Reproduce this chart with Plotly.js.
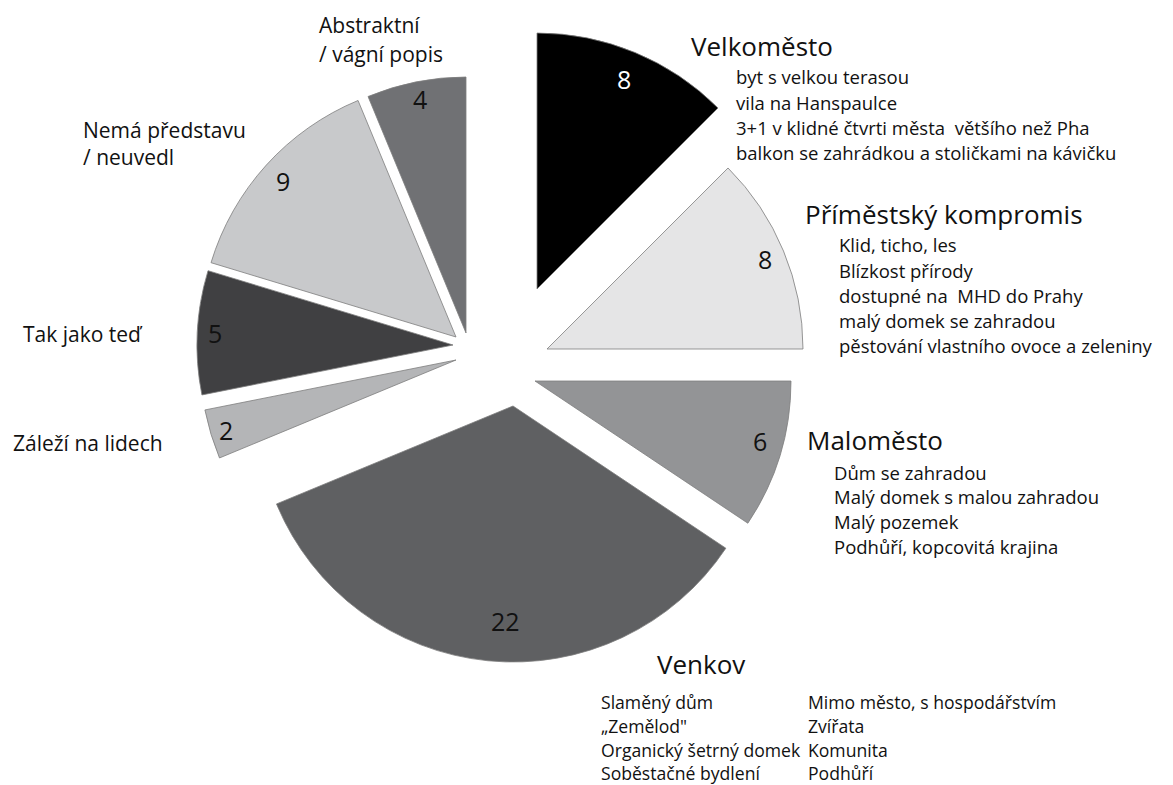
<!DOCTYPE html>
<html><head><meta charset="utf-8">
<script src="https://cdn.plot.ly/plotly-3.0.1.min.js"></script>
<style>html,body{margin:0;padding:0;background:#fff}#chart{width:1173px;height:785px}</style>
</head><body><div id="chart"></div>
<script>
// ---- data ----
const categories = ['Velkoměsto', 'Příměstský kompromis', 'Maloměsto', 'Venkov', 'Záleží na lidech', 'Tak jako teď', 'Nemá představu / neuvedl', 'Abstraktní / vágní popis'];
const counts = [8, 8, 6, 22, 2, 5, 9, 4];
const labelLinesVelkomesto = ['Velkoměsto'];
const labelLinesPrimestsky = ['Příměstský kompromis'];
const labelLinesMalomesto = ['Maloměsto'];
const labelLinesVenkov = ['Venkov'];
const labelLinesZalezi = ['Záleží na lidech'];
const labelLinesTak = ['Tak jako teď'];
const labelLinesNema = ['Nemá představu', '/ neuvedl'];
const labelLinesAbstraktni = ['Abstraktní', '/ vágní popis'];
const descVelkomesto = ['byt s velkou terasou', 'vila na Hanspaulce', '3+1 v klidné čtvrti města  většího než Pha', 'balkon se zahrádkou a stoličkami na kávičku'];
const descPrimestsky = ['Klid, ticho, les', 'Blízkost přírody', 'dostupné na  MHD do Prahy', 'malý domek se zahradou', 'pěstování vlastního ovoce a zeleniny'];
const descMalomesto = ['Dům se zahradou', 'Malý domek s malou zahradou', 'Malý pozemek', 'Podhůří, kopcovitá krajina'];
const descVenkovLeft = ['Slaměný dům', '„Zemělod"', 'Organický šetrný domek', 'Soběstačné bydlení'];
const descVenkovRight = ['Mimo město, s hospodářstvím', 'Zvířata', 'Komunita', 'Podhůří'];

// ---- styles / layout ----
const W = 1173, H = 785, R = 256;
const sliceColors = ['#000000', '#e5e5e6', '#939496', '#5f6062', '#b4b5b7', '#404042', '#c8c9cb', '#707174'];
const numberColors = ['#ffffff', '#111111', '#111111', '#111111', '#111111', '#111111', '#111111', '#111111'];
const apexPx = [[537, 289], [547, 349], [535, 381], [513, 406], [456, 360], [453, 345], [456, 337], [466, 333]];
const numberRadius = [0.89, 0.92, 0.91, 0.84, 0.94, 0.93, 0.91, 0.93];
const numberAngleShift = [0, 0, -2, -3.5, 0, 0, 0, 0];
const FONT = 'Open Sans, Noto Sans, sans-serif';
const TXT = '#111111';

const total = counts.reduce((a, b) => a + b, 0);
const px2x = p => p / W, px2y = p => 1 - p / H;

const traces = categories.map((c, i) => ({
  type: 'pie', values: counts, labels: categories, sort: false, direction: 'clockwise', rotation: 0,
  marker: {
    colors: categories.map((_, j) => j === i ? sliceColors[i] : 'rgba(0,0,0,0)'),
    line: { color: categories.map((_, j) => j === i ? '#7d7d7d' : 'rgba(0,0,0,0)'), width: 0.8 }
  },
  textinfo: 'none', hoverinfo: 'label+value', showlegend: false,
  domain: { x: [px2x(apexPx[i][0] - R), px2x(apexPx[i][0] + R)], y: [px2y(apexPx[i][1] + R), px2y(apexPx[i][1] - R)] }
}));

const annotations = [];
let cum = 0;
counts.forEach((v, i) => {
  const mid = ((cum + v / 2) / total * 360 + numberAngleShift[i]) * Math.PI / 180; cum += v;
  const rr = numberRadius[i] * R;
  const xp = apexPx[i][0] + rr * Math.sin(mid), yp = apexPx[i][1] - rr * Math.cos(mid);
  annotations.push({ xref: 'paper', yref: 'paper', x: px2x(xp), y: px2y(yp), text: String(v), showarrow: false,
    xanchor: 'center', yanchor: 'middle', font: { family: FONT, size: 25, color: numberColors[i] } });
});

function addLines(lines, xPx, yStart, step, size) {
  lines.forEach((t, k) => annotations.push({ xref: 'paper', yref: 'paper', x: px2x(xPx), y: px2y(yStart + k * step),
    text: t, showarrow: false, xanchor: 'left', yanchor: 'middle', font: { family: FONT, size: size, color: TXT } }));
}
// titles
addLines(labelLinesVelkomesto, 689, 46, 0, 26);
addLines(labelLinesPrimestsky, 803, 214, 0, 26);
addLines(labelLinesMalomesto, 805, 440, 0, 26);
addLines(labelLinesVenkov, 655, 664, 0, 26);
// descriptions
addLines(descVelkomesto, 734, 77, 25.3, 18.5);
addLines(descPrimestsky, 837, 245, 25.2, 18.5);
addLines(descMalomesto, 832, 472, 24.8, 18.5);
addLines(descVenkovLeft, 599, 702, 23.8, 17.6);
addLines(descVenkovRight, 806, 702, 23.8, 17.6);
// left labels
addLines(labelLinesAbstraktni, 317, 25, 29, 21);
addLines(labelLinesNema, 81, 130, 27, 21);
addLines(labelLinesTak, 21, 334, 0, 21);
addLines(labelLinesZalezi, 11, 443, 0, 21);

const layout = {
  width: W, height: H, margin: { l: 0, r: 0, t: 0, b: 0 },
  paper_bgcolor: '#ffffff', plot_bgcolor: '#ffffff', showlegend: false,
  annotations: annotations, font: { family: FONT }
};
Plotly.newPlot('chart', traces, layout, { displayModeBar: false, staticPlot: false });
</script>
</body></html>
